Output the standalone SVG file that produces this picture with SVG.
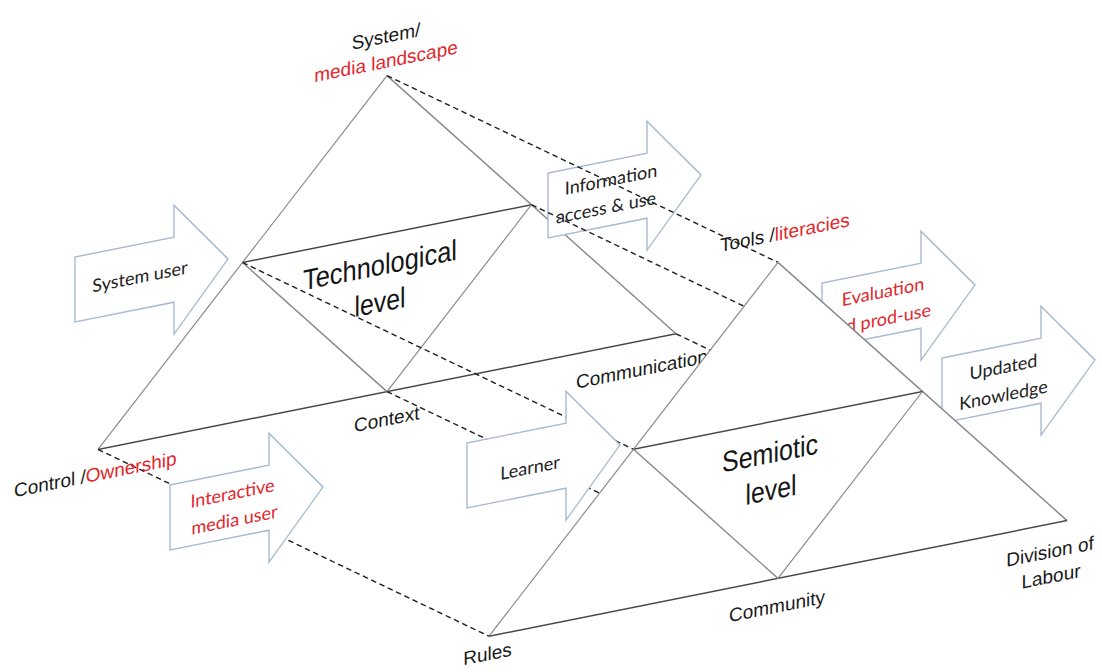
<svg xmlns="http://www.w3.org/2000/svg" xmlns:xlink="http://www.w3.org/1999/xlink" width="1102" height="672" viewBox="0 0 1102 672">
<style>
.side{stroke:#8a8a8a;stroke-width:1.3;fill:none}
.base{stroke:#474747;stroke-width:1.5;fill:none}
.dash{stroke:#222;stroke-width:1.3;stroke-dasharray:6 4;fill:none}
.arrow{fill:#fff;stroke:#a9bad0;stroke-width:1.4}
.lbl{font-family:"Liberation Sans",Arial,sans-serif;font-size:19px;fill:#1a1a1a}
.mid{text-anchor:middle}
.at{font-family:Lato,"Open Sans",sans-serif;font-size:18px;fill:#222;text-anchor:middle}
.big{font-family:"Liberation Sans",Arial,sans-serif;font-size:29px;fill:#151515;text-anchor:middle}
text.red,tspan.red,.at.red{fill:#e3262b}
</style>
<defs>
<path id="arr" d="M0,0 H99 V-32 L153,32.5 L99,97 V65 H0 Z"/>
</defs>
<rect width="1102" height="672" fill="#fff"/>
<g transform="matrix(1,-0.2,0,1,0,0)">
  <g id="tech-triangle">
    <line class="side" x1="387" y1="153" x2="98" y2="469"/>
    <line class="side" x1="387" y1="153" x2="676" y2="469"/>
    <line class="base" x1="98" y1="469" x2="676" y2="469"/>
    <line class="base" x1="242.5" y1="311" x2="531.5" y2="311"/>
    <line class="side" x1="242.5" y1="311" x2="387" y2="469"/>
    <line class="side" x1="531.5" y1="311" x2="387" y2="469"/>
    <text class="big" x="380" y="351" textLength="154" lengthAdjust="spacingAndGlyphs">Technological</text>
    <text class="big" x="380" y="388" textLength="51" lengthAdjust="spacingAndGlyphs">level</text>
  </g>
  <g id="arrow-system-user">
    <use href="#arr" xlink:href="#arr" class="arrow" transform="translate(75,272)"/>
    <text class="at" x="140" y="311">System user</text>
  </g>
  <g id="arrow-information">
    <use href="#arr" xlink:href="#arr" class="arrow" transform="translate(548,282.6)"/>
    <text class="at" x="611" y="308">Information</text>
    <text class="at" x="606" y="335">access &amp; use</text>
  </g>
  <g id="connectors">
    <line class="dash" x1="387" y1="153" x2="778" y2="418"/>
    <line class="dash" x1="531.5" y1="311" x2="922.5" y2="576"/>
    <line class="dash" x1="242.5" y1="311" x2="633.5" y2="576"/>
    <line class="dash" x1="387" y1="469" x2="778" y2="734"/>
    <line class="dash" x1="98" y1="469" x2="489" y2="734"/>
    <line class="dash" x1="676" y1="469" x2="1067" y2="734"/>
  </g>
  <g id="arrow-interactive">
    <use href="#arr" xlink:href="#arr" class="arrow" transform="translate(170,519)"/>
    <text class="at red" x="232.5" y="546">Interactive</text>
    <text class="at red" x="234.5" y="573">media user</text>
  </g>
  <g id="arrow-learner">
    <use href="#arr" xlink:href="#arr" class="arrow" transform="translate(467,536.4)"/>
    <text class="at" x="530" y="580">Learner</text>
  </g>
  <g id="arrow-evaluation">
    <use href="#arr" xlink:href="#arr" class="arrow" transform="translate(822,447.4)"/>
    <text class="at red" x="883" y="474.5">Evaluation</text>
    <text class="at red" x="879" y="502">and prod-use</text>
  </g>
  <g id="arrow-updated">
    <use href="#arr" xlink:href="#arr" class="arrow" transform="translate(942,546.4)"/>
    <text class="at" x="1003.5" y="574">Updated</text>
    <text class="at" x="1003.5" y="602">Knowledge</text>
  </g>
  <g id="labels-tech">
    <text class="lbl mid" x="386" y="120">System/</text>
    <text class="lbl mid red" x="386" y="145">media landscape</text>
    <text class="lbl" x="14" y="500">Control /<tspan class="red">Ownership</tspan></text>
    <text class="lbl" x="354" y="503">Context</text>
    <text class="lbl" x="576" y="504">Communication</text>
    <text class="lbl" x="720" y="396">Tools /<tspan class="red">literacies</tspan></text>
  </g>
  <g id="semiotic-triangle">
    <polygon points="778,418 489,734 1067,734" fill="#fff" stroke="none"/>
    <line class="side" x1="778" y1="418" x2="489" y2="734"/>
    <line class="side" x1="778" y1="418" x2="1067" y2="734"/>
    <line class="base" x1="489" y1="734" x2="1067" y2="734"/>
    <line class="base" x1="633.5" y1="576" x2="922.5" y2="576"/>
    <line class="side" x1="633.5" y1="576" x2="778" y2="734"/>
    <line class="side" x1="922.5" y1="576" x2="778" y2="734"/>
    <text class="big" x="770" y="617" textLength="96" lengthAdjust="spacingAndGlyphs">Semiotic</text>
    <text class="big" x="771" y="654" textLength="51" lengthAdjust="spacingAndGlyphs">level</text>
  </g>
  <g id="labels-semiotic">
    <text class="lbl" x="729" y="768">Community</text>
    <text class="lbl mid" x="1050" y="768">Division of</text>
    <text class="lbl mid" x="1051" y="793">Labour</text>
    <text class="lbl mid" x="487.5" y="758">Rules</text>
  </g>
</g>
</svg>
